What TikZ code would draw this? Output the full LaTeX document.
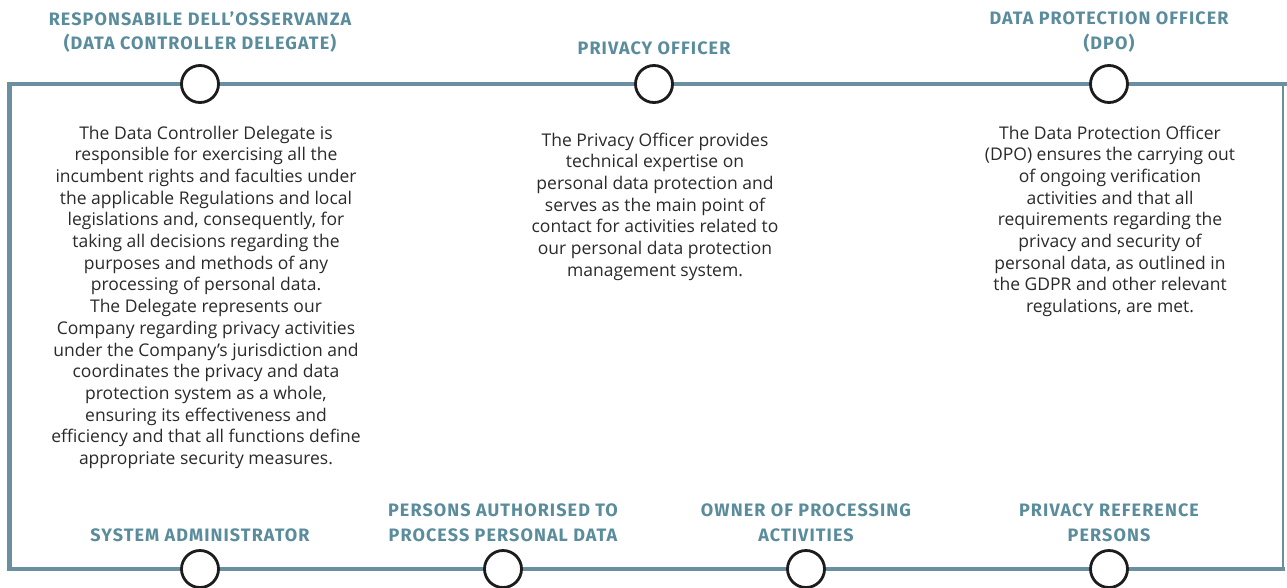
\documentclass[tikz,border=0pt]{standalone}
\usepackage{fontspec}
\setmainfont{Open Sans}
\newfontfamily\headfont[LetterSpace=6.0]{Fira Sans}
\definecolor{frame1}{HTML}{6A8FA0}
\definecolor{head1}{HTML}{5A8C9C}
\definecolor{text1}{HTML}{2A2A2A}
\definecolor{ring1}{HTML}{1C1C1C}

\begin{document}
\begin{tikzpicture}[x=1pt, y=-1pt,
  role/.style={font=\headfont\bfseries\fontsize{18}{24.5}\selectfont, text=head1, align=center, inner sep=0pt},
  desc/.style={font=\fontsize{17.5}{21.7}\selectfont, text=text1, align=center, inner sep=0pt, anchor=north},
  dot/.style={circle, draw=ring1, line width=2.8pt, fill=white, minimum size=37pt, inner sep=0pt},
  rim/.style={draw=frame1, line width=4.5pt}]
\useasboundingbox (0,0) rectangle (1287,587);

\coordinate (tl) at (9.5,84);
\coordinate (tr) at (1287,84);
\coordinate (bl) at (9.5,569);
\coordinate (br) at (1285,569);
\coordinate (rt) at (1283,84);
\coordinate (rb) at (1283,569);

\draw[rim] ([xshift=-2.25pt]tl) -- (tr);
\draw[rim] (tl) -- (bl);
\draw[rim] ([xshift=-2.25pt]bl) -- (br);
\draw[draw=frame1, line width=1.2pt] (rt) -- (rb);

\node[dot] (c1) at (200,84) {};
\node[dot] (c2) at (654,84) {};
\node[dot] (c3) at (1109,84) {};
\node[dot] (b1) at (200,569) {};
\node[dot] (b2) at (503,569) {};
\node[dot] (b3) at (806,569) {};
\node[dot] (b4) at (1109,569) {};

\node[role] (t1) at (200,32) {RESPONSABILE DELL’OSSERVANZA\\(DATA CONTROLLER DELEGATE)};
\node[role] (t2) at (654,48) {PRIVACY OFFICER};
\node[role] (t3) at (1109,32) {DATA PROTECTION OFFICER\\(DPO)};
\node[role] (s1) at (200,535) {SYSTEM ADMINISTRATOR};
\node[role] (s2) at (503,523) {PERSONS AUTHORISED TO\\PROCESS PERSONAL DATA};
\node[role] (s3) at (806,523) {OWNER OF PROCESSING\\ACTIVITIES};
\node[role] (s4) at (1109,523) {PRIVACY REFERENCE\\PERSONS};

\node[desc] (d1) at (206,125.5) {The Data Controller Delegate is\\
responsible for exercising all the\\
incumbent rights and faculties under\\
the applicable Regulations and local\\
legislations and, consequently, for\\
taking all decisions regarding the\\
purposes and methods of any\\
processing of personal data.\\
The Delegate represents our\\
Company regarding privacy activities\\
under the Company's jurisdiction and\\
coordinates the privacy and data\\
protection system as a whole,\\
ensuring its effectiveness and\\
efficiency and that all functions define\\
appropriate security measures.};
\node[desc] (d2) at (655,132.5) {The Privacy Officer provides\\
technical expertise on\\
personal data protection and\\
serves as the main point of\\
contact for activities related to\\
our personal data protection\\
management system.};
\node[desc] (d3) at (1110,125.5) {The Data Protection Officer\\
(DPO) ensures the carrying out\\
of ongoing verification\\
activities and that all\\
requirements regarding the\\
privacy and security of\\
personal data, as outlined in\\
the GDPR and other relevant\\
regulations, are met.};
\end{tikzpicture}
\end{document}
